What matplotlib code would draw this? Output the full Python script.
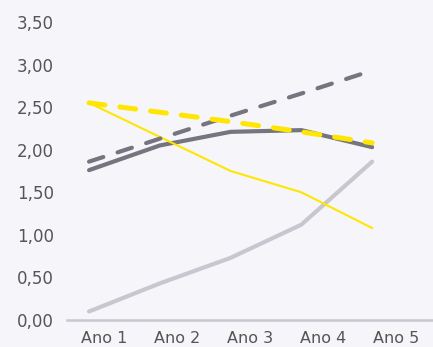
import matplotlib.pyplot as plt
import numpy as np

# dados do grafico
anos = ["Ano 1", "Ano 2", "Ano 3", "Ano 4", "Ano 5"]
cinza_solido = [1.76, 2.05, 2.21, 2.23, 2.03]
cinza_tracejado = [1.86, 2.13, 2.40, 2.66, 2.93]
amarelo_tracejado = [2.55, 2.44, 2.33, 2.21, 2.08]
amarelo_fino = [2.55, 2.15, 1.75, 1.50, 1.08]
cinza_claro = [0.10, 0.43, 0.73, 1.12, 1.86]

fundo = "#f6f6fa"
cinza = "#76757f"
claro = "#c8c7d0"
amarelo = "#ffe600"
texto = "#555555"

fig = plt.figure(figsize=(4.33, 3.47), dpi=100, facecolor=fundo)
ax = fig.add_axes([0.155, 0.0778, 0.845, 0.8588], facecolor=fundo)

x = np.arange(len(anos))
ax.plot(x, cinza_claro, color=claro, lw=3, solid_capstyle="round", zorder=2)
ax.plot(x, cinza_solido, color=cinza, lw=3, solid_capstyle="round", zorder=3)
ax.plot(x, amarelo_fino, color=amarelo, lw=1.5, zorder=4)
ax.plot(x, cinza_tracejado, color=cinza, lw=3, dashes=(3.6, 3.6),
        dash_capstyle="round", zorder=5)
ax.plot(x, amarelo_tracejado, color=amarelo, lw=3.6, dashes=(3.2, 3.0),
        dash_capstyle="round", zorder=6)

ax.set_xlim(-0.31, 4.86)
ax.set_ylim(0, 3.5)
ax.set_yticks(np.arange(0, 3.51, 0.5))
ax.set_yticklabels([f"{v:.2f}".replace(".", ",") for v in np.arange(0, 3.51, 0.5)])
ax.tick_params(axis="y", length=0, pad=9.5, labelsize=12, labelcolor=texto)
ax.set_xticks([])

for lado in ["top", "right", "left"]:
    ax.spines[lado].set_visible(False)
ax.spines["bottom"].set_color(claro)
ax.spines["bottom"].set_linewidth(1.8)

# eixo das categorias (rotulos centrados em cada faixa)
ax2 = ax.twiny()
ax2.set_xlim(0, len(anos))
ax2.xaxis.set_ticks_position("bottom")
ax2.set_xticks(x + 0.5)
ax2.set_xticklabels(anos)
ax2.tick_params(axis="x", length=0, pad=8, labelsize=11.5, labelcolor=texto)
for lado in ax2.spines:
    ax2.spines[lado].set_visible(False)

fig.savefig("out.png", dpi=100, facecolor=fundo)
